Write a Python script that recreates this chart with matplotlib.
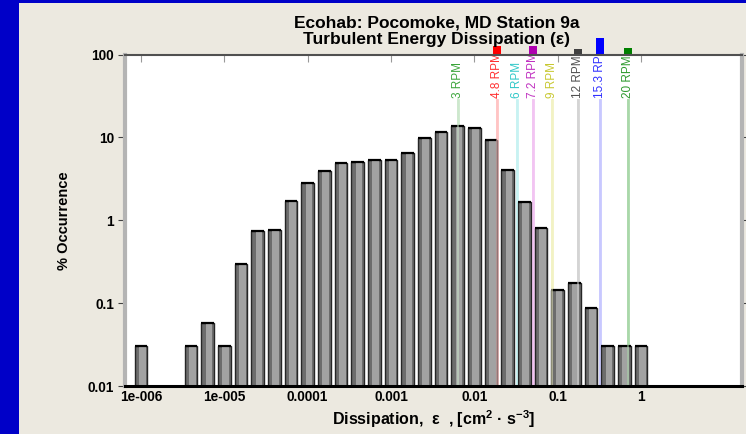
import numpy as np
import matplotlib
matplotlib.use("Agg")
import matplotlib.pyplot as plt
from matplotlib.patches import Rectangle
import matplotlib.transforms as mtrans

# ---- data ----
bin_log_centers = [-6.0, -5.4, -5.2, -5.0, -4.8, -4.6, -4.4, -4.2, -4.0, -3.8,
                   -3.6, -3.4, -3.2, -3.0, -2.8, -2.6, -2.4, -2.2, -2.0, -1.8,
                   -1.6, -1.4, -1.2, -1.0, -0.8, -0.6, -0.4, -0.2, 0.0]
occurrence = [0.03, 0.03, 0.058, 0.03, 0.30, 0.74, 0.77, 1.7, 2.85, 3.95,
              4.9, 5.0, 5.3, 5.4, 6.5, 9.7, 11.5, 13.8, 12.8, 9.3,
              4.0, 1.65, 0.8, 0.145, 0.175, 0.088, 0.03, 0.03, 0.03]

rpm_labels = ["3 RPM", "4.8 RPM", "6 RPM", "7.2 RPM", "9 RPM", "12 RPM", "15.3 RPM", "20 RPM"]
rpm_eps = [0.0064, 0.0187, 0.0325, 0.0506, 0.0855, 0.175, 0.32, 0.70]
rpm_text_colors = ["#3aa53a", "#ff3030", "#30c8c8", "#c030c0", "#c8c830", "#505050", "#3030ff", "#2e9a2e"]
rpm_line_colors = ["#cde8cd", "#ffc4c4", "#c8f2f2", "#f2c4f2", "#f2f2c4", "#d4d4d4", "#c8c8ff", "#a9d8a9"]
rpm_block_colors = [None, "#ff0000", None, "#b000b0", None, "#404040", "#0000ff", "#008000"]

xtick_vals = [1e-6, 1e-5, 1e-4, 1e-3, 1e-2, 1e-1, 1]
xtick_labels = ["1e-006", "1e-005", "0.0001", "0.001", "0.01", "0.1", "1"]
ytick_vals = [0.01, 0.1, 1, 10, 100]
ytick_labels = ["0.01", "0.1", "1", "10", "100"]

title_text = "Ecohab: Pocomoke, MD Station 9a\nTurbulent Energy Dissipation (ε)"
xlabel_text = "Dissipation,  ε  , [cm$^2$ · s$^{-3}$]"
ylabel_text = "% Occurrence"

# ---- figure ----
W, H = 746, 434
plt.rcParams['font.family'] = ['Liberation Sans', 'DejaVu Sans']
plt.rcParams['mathtext.fontset'] = 'custom'
plt.rcParams['mathtext.rm'] = 'Liberation Sans:bold'
plt.rcParams['mathtext.bf'] = 'Liberation Sans:bold'
plt.rcParams['mathtext.it'] = 'Liberation Sans:bold'
plt.rcParams['mathtext.default'] = 'bf'

fig = plt.figure(figsize=(W / 100, H / 100), dpi=100)
fig.patch.set_facecolor("#ECE9E0")

# blue frame strips
fig.patches.append(Rectangle((0, 0), 19 / W, 1, transform=fig.transFigure,
                             facecolor="#0000C8", edgecolor="none", zorder=0))
fig.patches.append(Rectangle((0, 1 - 3 / H), 1, 3 / H, transform=fig.transFigure,
                             facecolor="#0000C8", edgecolor="none", zorder=0))

left, right, top, bottom = 125, 742, 54.5, 386
ax = fig.add_axes([left / W, 1 - bottom / H, (right - left) / W, (bottom - top) / H])
ax.set_facecolor("white")
ax.set_xscale("log")
ax.set_yscale("log")
ax.set_xlim(10 ** -6.192, 10 ** 1.212)
ax.set_ylim(0.01, 100)

hw = 0.077
for c, v in zip(bin_log_centers, occurrence):
    x0 = 10 ** (c - hw)
    x1 = 10 ** (c + hw)
    ax.bar(x0, v - 0.005, width=x1 - x0, bottom=0.005, align="edge",
           facecolor="#6c6c6c", edgecolor="#262626", linewidth=1.0, zorder=3)
    xi0 = 10 ** (c - 0.025)
    xi1 = 10 ** (c + 0.055)
    ax.bar(xi0, v * 0.985 - 0.005, width=xi1 - xi0, bottom=0.005, align="edge",
           facecolor="#a2a2a2", edgecolor="none", linewidth=0, zorder=4)
    ax.plot([x0, x1], [v, v], color="black", lw=1.6, zorder=5, solid_capstyle="butt")

trans = mtrans.blended_transform_factory(ax.transData, ax.transAxes)
line_top = (bottom - 100) / (bottom - top)
text_bottom = (bottom - 98) / (bottom - top)
for lab, e, tc, lc in zip(rpm_labels, rpm_eps, rpm_text_colors, rpm_line_colors):
    ax.plot([e, e], [0, line_top], transform=trans, color=lc, lw=2, zorder=2.5)
    ax.plot([e, e], [0, line_top], transform=trans, color=lc, lw=1.2, alpha=0.6, zorder=6)
    ax.text(e, text_bottom, lab, transform=trans, rotation=90, ha="center", va="bottom",
            color=tc, fontsize=8.5, clip_on=True, zorder=7)

# overflowing label blocks above the top spine
blocks = {"4.8 RPM": (46, 8), "7.2 RPM": (46, 8), "12 RPM": (49, 6), "15.3 RPM": (38, 16), "20 RPM": (48, 7)}
for lab, e, bc in zip(rpm_labels, rpm_eps, rpm_block_colors):
    if bc is None:
        continue
    ytop, hgt = blocks[lab]
    y0 = (bottom - (ytop + hgt)) / (bottom - top)
    ax.add_patch(Rectangle((e / 10 ** 0.045, y0), e * 10 ** 0.045 - e / 10 ** 0.045, hgt / (bottom - top),
                           transform=trans, facecolor=bc, edgecolor="none", clip_on=False, zorder=8))

# spines
ax.spines["left"].set_color("#b4b4b4")
ax.spines["left"].set_linewidth(3)
ax.spines["right"].set_color("#b4b4b4")
ax.spines["right"].set_linewidth(3)
ax.spines["top"].set_color("#505050")
ax.spines["top"].set_linewidth(1.5)
ax.spines["bottom"].set_color("black")
ax.spines["bottom"].set_linewidth(2.2)
for s in ax.spines.values():
    s.set_zorder(9)

ax.set_xticks(xtick_vals)
ax.set_xticklabels(xtick_labels, fontsize=9.8, fontweight="bold")
ax.xaxis.set_minor_locator(matplotlib.ticker.NullLocator())
ax.tick_params(axis="x", which="major", bottom=True, top=True, direction="in", length=5,
               color="#999999", pad=3)
ax.tick_params(axis="x", which="major", bottom=False)
ax.set_yticks(ytick_vals)
ax.set_yticklabels(ytick_labels, fontsize=9.8, fontweight="bold")
ax.yaxis.set_minor_locator(matplotlib.ticker.NullLocator())
ax.tick_params(axis="y", which="major", left=True, right=True, direction="out", length=5,
               color="#404040", pad=3)

ax.set_xlabel(xlabel_text, fontsize=11.5, fontweight="bold", labelpad=3)
ax.set_ylabel(ylabel_text, fontsize=10.5, fontweight="bold", labelpad=12)
fig.text(437 / W, 1 - 31 / H, title_text, ha="center", va="center", fontsize=12.5,
         fontweight="bold", linespacing=1.1)

fig.savefig("out.png", dpi=100, facecolor=fig.get_facecolor())
